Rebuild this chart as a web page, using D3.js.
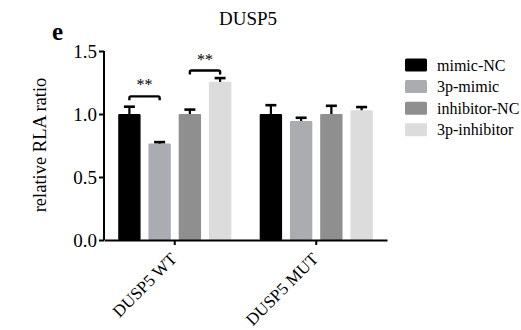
<!DOCTYPE html>
<html>
<head>
<meta charset="utf-8">
<script src="https://cdn.jsdelivr.net/npm/d3@7"></script>
<style>
  body { margin: 0; background: #fff; }
  svg text { font-family: "Liberation Serif", "Times New Roman", serif; fill: #000; }
</style>
</head>
<body>
<svg width="521" height="330"></svg>
<script>
"use strict";

var groups = ["DUSP5 WT", "DUSP5 MUT"];
var series = ["mimic-NC", "3p-mimic", "inhibitor-NC", "3p-inhibitor"];
var colors = ["#000000", "#abacaf", "#8f8f8f", "#dcdcdc"];
// values[group][series]
var values = [[1.0, 0.765, 1.0, 1.255], [1.0, 0.945, 1.0, 1.03]];
var errors = [[0.058, 0.012, 0.035, 0.03], [0.07, 0.025, 0.065, 0.025]];
var yTicks = [0.0, 0.5, 1.0, 1.5];
// significance: [group, series a, series b, bracket level, label]
var sigs = [[0, 0, 1, 1.14, "**"], [0, 2, 3, 1.345, "**"]];

var serif = "'Liberation Serif', 'Times New Roman', serif";
var svg = d3.select("svg");

var x0 = d3.scaleBand().domain(groups).range([104, 387]);
var x1 = d3.scaleBand().domain(series).range([0, x0.bandwidth()])
    .paddingInner(0.26).paddingOuter(0.47);
var y = d3.scaleLinear().domain([0, 1.5]).range([240, 51]);
var color = d3.scaleOrdinal().domain(series).range(colors);

function rows(gi) {
  return series.map((s, si) => ({s: s, v: values[gi][si], e: errors[gi][si]}));
}

// bars
var g = svg.selectAll("g.grp")
  .data(groups)
  .join("g")
    .attr("class", "grp")
    .attr("transform", d => `translate(${x0(d)},0)`);

g.selectAll("rect")
  .data((d, gi) => rows(gi))
  .join("rect")
    .attr("x", d => x1(d.s))
    .attr("y", d => y(d.v))
    .attr("width", x1.bandwidth())
    .attr("height", d => y(0) - y(d.v))
    .attr("rx", 1)
    .attr("fill", d => color(d.s));

// error bars (upper only)
var eb = g.selectAll("g.err")
  .data((d, gi) => rows(gi))
  .join("g")
    .attr("class", "err")
    .attr("stroke", "#000");
eb.append("line")
    .attr("x1", d => x1(d.s) + x1.bandwidth() / 2)
    .attr("x2", d => x1(d.s) + x1.bandwidth() / 2)
    .attr("y1", d => y(d.v))
    .attr("y2", d => y(d.v + d.e))
    .attr("stroke-width", 2.2);
eb.append("line")
    .attr("x1", d => x1(d.s) + x1.bandwidth() / 2 - 5.5)
    .attr("x2", d => x1(d.s) + x1.bandwidth() / 2 + 5.5)
    .attr("y1", d => y(d.v + d.e))
    .attr("y2", d => y(d.v + d.e))
    .attr("stroke-width", 2.6);

// significance brackets
sigs.forEach(function(s) {
  var gi = s[0];
  var xa = x0(groups[gi]) + x1(series[s[1]]) + x1.bandwidth() / 2;
  var xb = x0(groups[gi]) + x1(series[s[2]]) + x1.bandwidth() / 2;
  var by = y(s[3]);
  svg.append("path")
      .attr("d", `M${xa},${by + 4}L${xa},${by + 1.5}Q${xa},${by} ${xa + 1.5},${by}L${xb - 1.5},${by}Q${xb},${by} ${xb},${by + 1.5}L${xb},${by + 4}`)
      .attr("fill", "none")
      .attr("stroke", "#000")
      .attr("stroke-width", 2.4);
  svg.append("text")
      .attr("x", (xa + xb) / 2)
      .attr("y", by - 6)
      .attr("text-anchor", "middle")
      .style("font-size", "16px")
      .text(s[4]);
});

// y axis
var yAxis = svg.append("g")
    .attr("transform", "translate(104,0)")
    .call(d3.axisLeft(y).tickValues(yTicks).tickFormat(d3.format(".1f")).tickSize(5).tickPadding(2));
yAxis.select(".domain").attr("stroke-width", 2).attr("d", "M0,51V240");
yAxis.selectAll(".tick line").attr("stroke-width", 2);
yAxis.selectAll(".tick text")
    .attr("dy", "0.34em")
    .style("font-family", serif)
    .style("font-size", "19px");

// x axis
var xAxis = svg.append("g")
    .attr("transform", "translate(0,240)")
    .call(d3.axisBottom(x0).tickSize(5).tickSizeOuter(0));
xAxis.select(".domain").attr("stroke-width", 2);
xAxis.selectAll(".tick line").attr("stroke-width", 2);
xAxis.selectAll(".tick text")
    .style("font-family", serif)
    .style("font-size", "17px")
    .attr("text-anchor", "end")
    .attr("dy", null)
    .attr("y", 0)
    .attr("transform", "translate(3,20) rotate(-45)");

// y label
svg.append("text")
    .attr("transform", "translate(46,145) rotate(-90)")
    .attr("text-anchor", "middle")
    .style("font-size", "18.5px")
    .text("relative RLA ratio");

// title and panel letter
svg.append("text")
    .attr("x", 248).attr("y", 25)
    .attr("text-anchor", "middle")
    .style("font-size", "19px")
    .text("DUSP5");
svg.append("text")
    .attr("x", 52).attr("y", 40)
    .style("font-size", "25px")
    .style("font-weight", "bold")
    .text("e");

// legend
var leg = svg.selectAll("g.leg")
  .data(series)
  .join("g")
    .attr("class", "leg")
    .attr("transform", (d, i) => `translate(405,${58.5 + i * 21.6})`);
leg.append("rect")
    .attr("width", 22).attr("height", 13).attr("rx", 1.5)
    .attr("fill", d => color(d));
leg.append("text")
    .attr("x", 32).attr("y", 12)
    .style("font-size", "16px")
    .text(d => d);
</script>
</body>
</html>
